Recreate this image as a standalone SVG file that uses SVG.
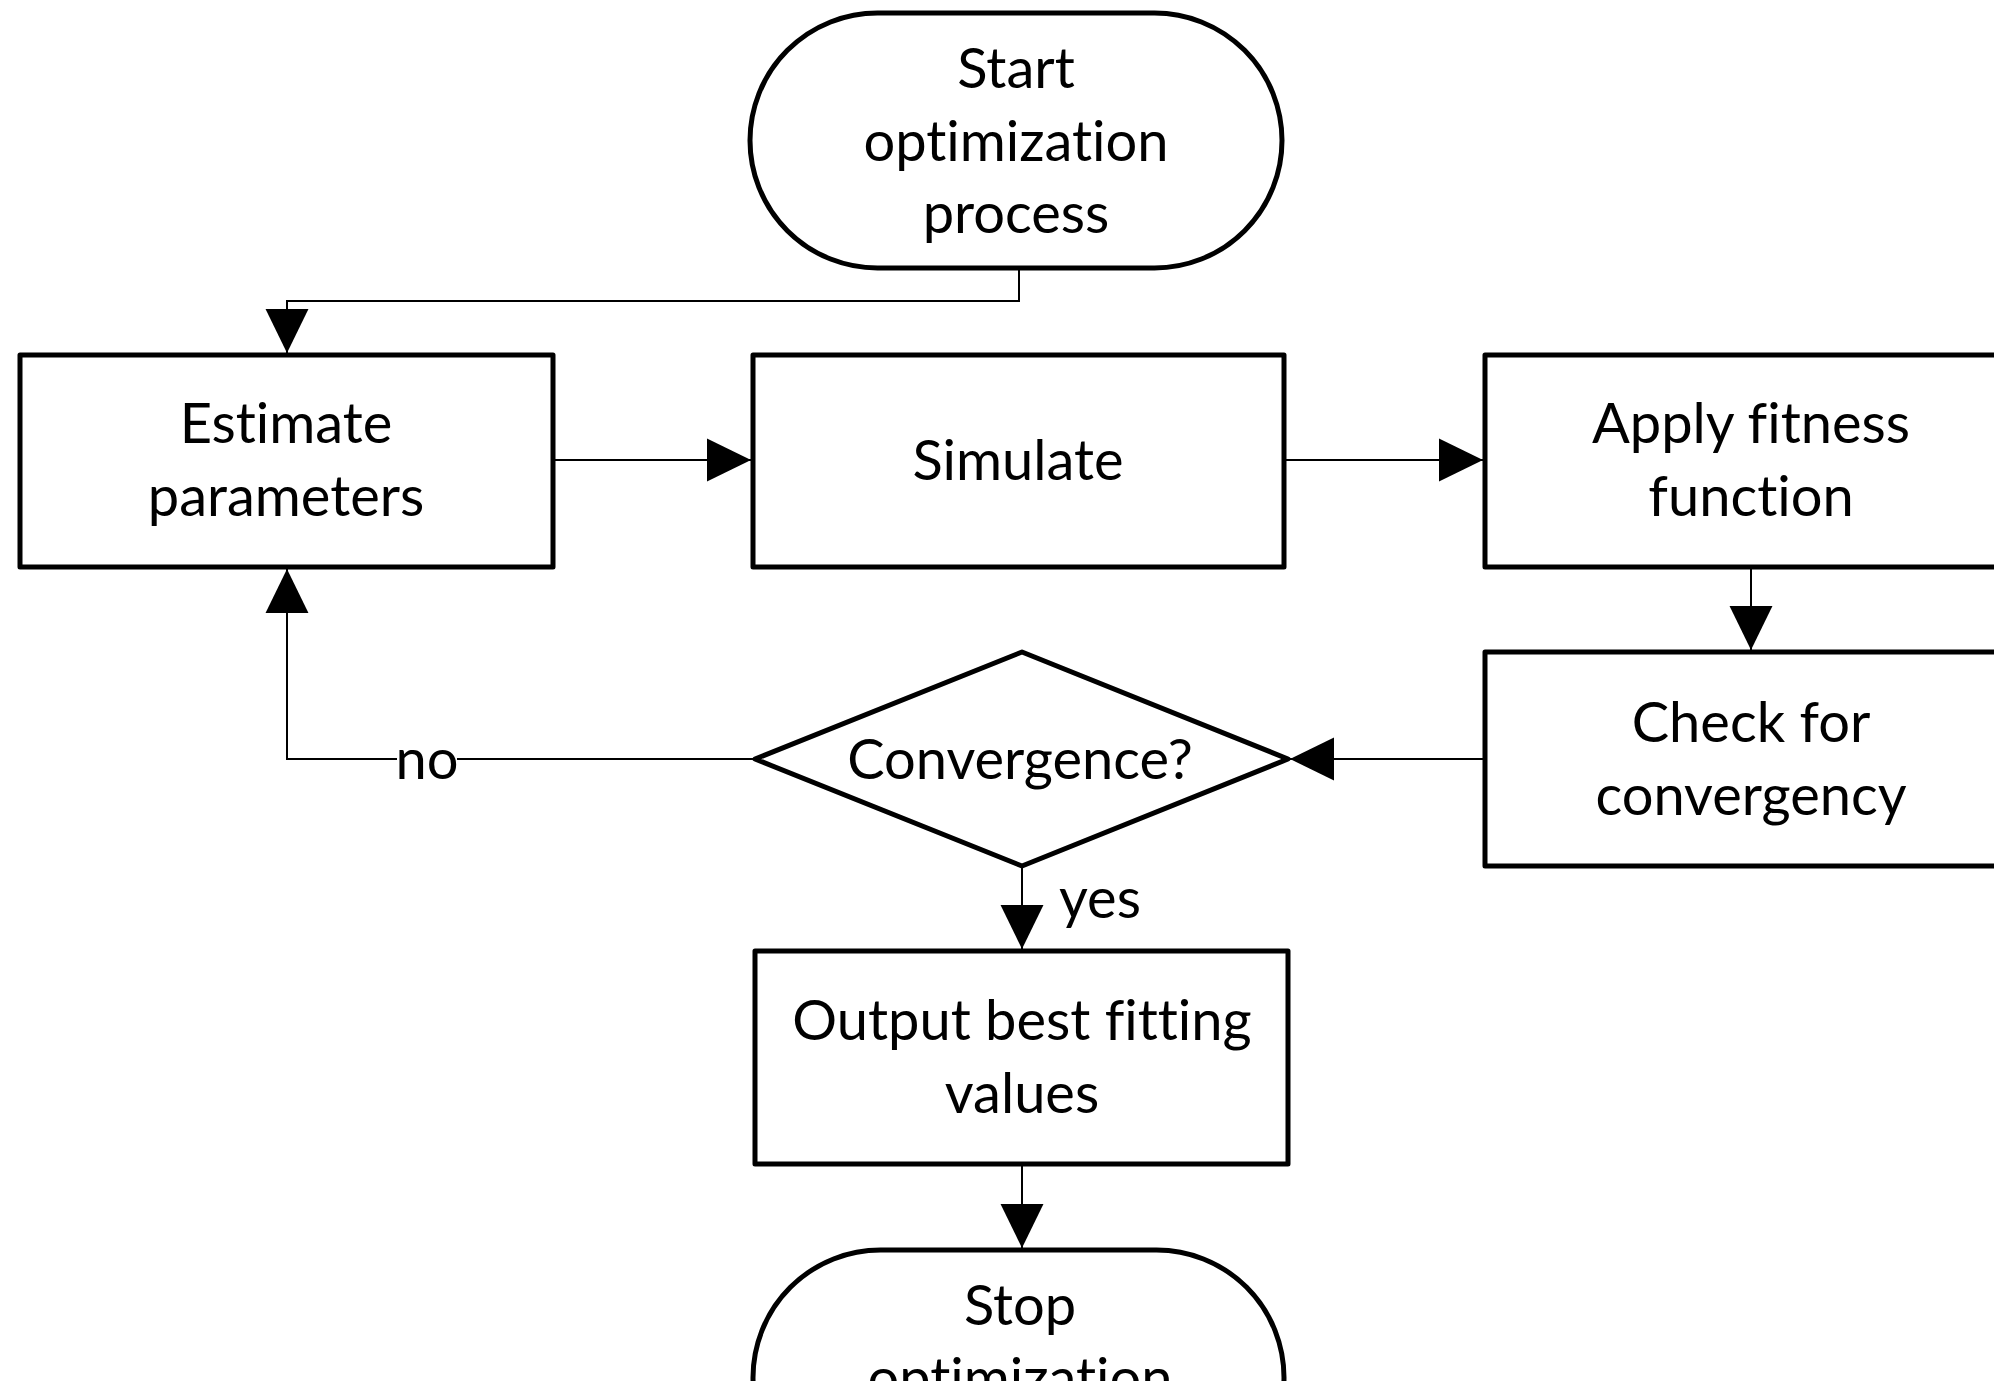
<svg xmlns="http://www.w3.org/2000/svg" width="1994" height="1381" viewBox="0 0 1994 1381">
<style>
.node{fill:#fff;stroke:#000;stroke-width:5;stroke-linejoin:round}
.lbl{font-family:Lato,"Liberation Sans",sans-serif;font-size:56px;fill:#000;text-anchor:middle;font-variant-ligatures:none;font-feature-settings:"liga" 0,"clig" 0}
.edge{fill:none;stroke:#000;stroke-width:2}
.elbl{font-family:Lato,"Liberation Sans",sans-serif;font-size:56px;fill:#000;font-variant-ligatures:none}
</style>
<defs>
<marker id="arr" markerUnits="userSpaceOnUse" markerWidth="44" markerHeight="44" viewBox="0 0 41 40" refX="41" refY="20" orient="auto">
<path d="M0,0 L41,20 L0,40 Z" fill="#000"/>
</marker>
</defs>
<rect width="1994" height="1381" fill="#fff"/>
<g id="connectors">
<path class="edge" d="M1019,268 V301 H287 V353" marker-end="url(#arr)"/>
<path class="edge" d="M553,460 H751" marker-end="url(#arr)"/>
<path class="edge" d="M1284,460 H1483" marker-end="url(#arr)"/>
<path class="edge" d="M1751,567 V650" marker-end="url(#arr)"/>
<path class="edge" d="M1485,759 H1290" marker-end="url(#arr)"/>
<path class="edge" d="M755,759 H287 V569" marker-end="url(#arr)"/>
<path class="edge" d="M1022,866 V949" marker-end="url(#arr)"/>
<path class="edge" d="M1022,1164 V1248" marker-end="url(#arr)"/>
<rect x="397" y="735" width="60" height="50" fill="#fff"/>
<text class="elbl" x="427" y="779" text-anchor="middle">no</text>
<text class="elbl" x="1059" y="918">yes</text>
</g>
<g id="start">
<rect class="node" x="750" y="13" width="532" height="255" rx="127.5" ry="127.5"/>
<text class="lbl" x="1016" y="88">Start</text>
<text class="lbl" x="1016" y="161">optimization</text>
<text class="lbl" x="1016" y="233">process</text>
</g>
<g id="estimate">
<rect class="node" x="20" y="355" width="533" height="212"/>
<text class="lbl" x="286" y="443">Estimate</text>
<text class="lbl" x="286" y="516">parameters</text>
</g>
<g id="simulate">
<rect class="node" x="753" y="355" width="531" height="212"/>
<text class="lbl" x="1018" y="480">Simulate</text>
</g>
<g id="fitness">
<rect class="node" x="1485" y="355" width="532" height="212"/>
<text class="lbl" x="1751" y="443">Apply fitness</text>
<text class="lbl" x="1751" y="516">function</text>
</g>
<g id="check">
<rect class="node" x="1485" y="652" width="532" height="214"/>
<text class="lbl" x="1751" y="742">Check for</text>
<text class="lbl" x="1751" y="815">convergency</text>
</g>
<g id="convergence">
<polygon class="node" points="755,759 1022,652 1288,759 1022,866"/>
<text class="lbl" x="1020" y="779">Convergence?</text>
</g>
<g id="output">
<rect class="node" x="755" y="951" width="533" height="213"/>
<text class="lbl" x="1022" y="1040">Output best fitting</text>
<text class="lbl" x="1022" y="1113">values</text>
</g>
<g id="stop">
<rect class="node" x="753" y="1250" width="531" height="255" rx="127.5" ry="127.5"/>
<text class="lbl" x="1020" y="1325">Stop</text>
<text class="lbl" x="1020" y="1398">optimization</text>
<text class="lbl" x="1020" y="1470">process</text>
</g>
</svg>
